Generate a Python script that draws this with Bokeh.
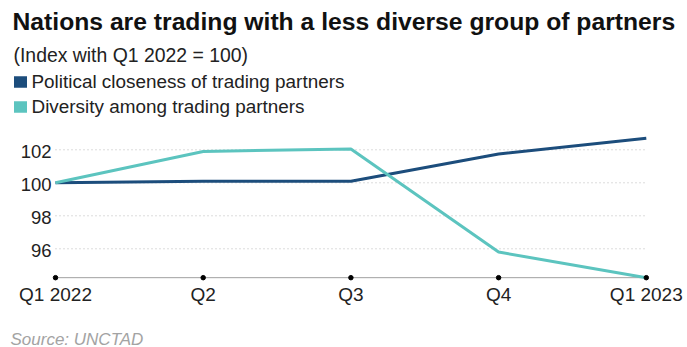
from bokeh.plotting import figure
from bokeh.models import Range1d, Label, BoxAnnotation
from bokeh.core.properties import value
from bokeh.embed import file_html
from bokeh.resources import INLINE

quarters = ["Q1 2022", "Q2", "Q3", "Q4", "Q1 2023"]
political = [100.0, 100.1, 100.1, 101.75, 102.7]
diversity = [100.0, 101.9, 102.05, 95.8, 94.25]
y_ticks = [96, 98, 100, 102]
y_tick_labels = ["96", "98", "100", "102"]
axis_base = 94.25

title_text = "Nations are trading with a less diverse group of partners"
subtitle_text = "(Index with Q1 2022 = 100)"
legend_labels = ["Political closeness of trading partners", "Diversity among trading partners"]
source_text = "Source: UNCTAD"

NAVY = "#1c4d7c"
TEAL = "#5cc4bf"
FONT = "Liberation Sans"

W, H = 687, 347
SHIFT = 6.5  # baseline correction for rendered text
xs = list(range(len(quarters)))

# frame covers whole canvas; scales: x 0 -> 55px, 147.7 px/unit ; y 100 -> 182.3px, 16.5 px/unit
PX_X, X0 = 147.7, 55.0
PX_Y, Y100 = 16.5, 182.3
x_range = Range1d(-X0 / PX_X, (W - X0) / PX_X)
y_range = Range1d(100 - (H - Y100) / PX_Y, 100 + Y100 / PX_Y)

p = figure(width=W, height=H, output_backend="svg", toolbar_location=None,
           x_range=x_range, y_range=y_range,
           x_axis_location=None, y_axis_location=None,
           min_border=0)
p.outline_line_color = None
p.background_fill_color = "white"
p.border_fill_color = "white"
p.xgrid.visible = False
p.ygrid.visible = False

# dotted gridlines
p.segment(x0=[xs[0]] * len(y_ticks), x1=[xs[-1]] * len(y_ticks), y0=y_ticks, y1=y_ticks,
          line_color="#b8b8b8", line_width=1, line_dash="1 3")

# baseline axis
p.line([xs[0], xs[-1]], [axis_base, axis_base], line_color="#a0a0a0", line_width=1)

# data lines
p.line(xs, political, line_color=NAVY, line_width=3)
p.line(xs, diversity, line_color=TEAL, line_width=3)

# tick dots
p.scatter(xs, [axis_base] * len(xs), size=4.5, color="black")

# tick labels
p.text(x=xs, y=[axis_base] * len(xs), text=quarters, text_font=value(FONT),
       text_font_size=value("19px"), text_color="#222222", text_align="center",
       text_baseline="alphabetic", y_offset=23.5 - SHIFT)
p.text(x=[xs[0]] * len(y_ticks), y=y_ticks, text=y_tick_labels, text_font=value(FONT),
       text_font_size=value("18.5px"), text_color="#222222", text_align="right",
       text_baseline="alphabetic", x_offset=-4, y_offset=8 - SHIFT)

# header texts (screen units: x from left, y from bottom)
def lab(x, base, text, size, style="normal", color="#222222"):
    p.add_layout(Label(x=x, y=H - (base - SHIFT), x_units="screen", y_units="screen", text=text,
                       text_font=FONT, text_font_size=size, text_font_style=style,
                       text_color=color, text_baseline="alphabetic"))

lab(12, 27.5, title_text, "24.7px", "bold", "#111111")
lab(13, 60.5, subtitle_text, "19.4px")
for i, (txt, col) in enumerate(zip(legend_labels, [NAVY, TEAL])):
    base = 87.3 + i * 25
    p.add_layout(BoxAnnotation(left=13.5, right=26.5, top=H - (base - 11.5), bottom=H - base,
                               left_units="screen", right_units="screen",
                               top_units="screen", bottom_units="screen",
                               fill_color=col, fill_alpha=1, line_color=None))
    lab(31, base, txt, "18.9px")

lab(10, 345, source_text, "17px", "italic", "#a3a3a3")

open("out.html", "w").write(file_html(p, INLINE))
